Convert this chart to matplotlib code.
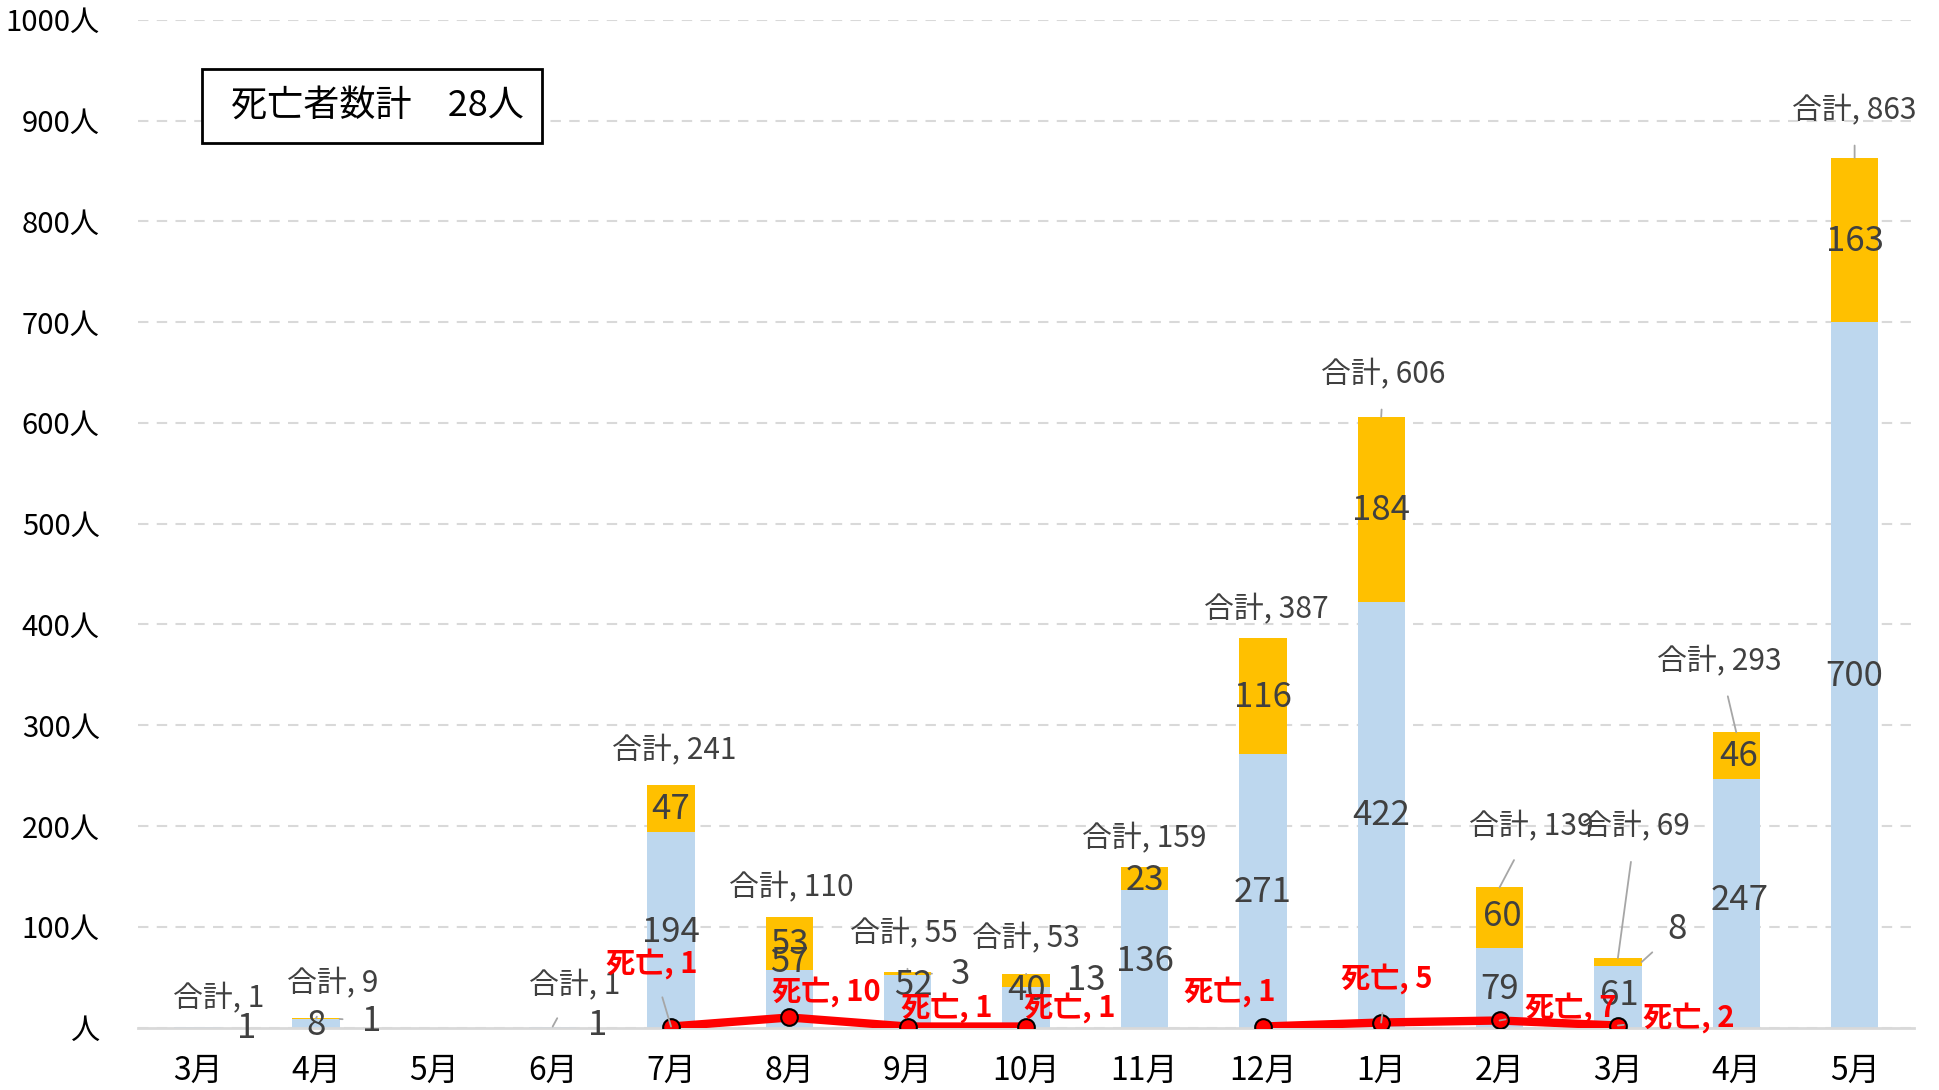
import numpy as np
import matplotlib.pyplot as plt
from matplotlib.patches import Rectangle

plt.rcParams['font.family'] = ['Noto Sans CJK JP', 'DejaVu Sans']

# data
months = ['3月', '4月', '5月', '6月', '7月', '8月', '9月', '10月', '11月',
          '12月', '1月', '2月', '3月', '4月', '5月']
light = [1, 8, 0, 1, 194, 57, 52, 40, 136, 271, 422, 79, 61, 247, 700]
severe = [0, 1, 0, 0, 47, 53, 3, 13, 23, 116, 184, 60, 8, 46, 163]
deaths = [np.nan, np.nan, np.nan, np.nan, 1, 10, 1, 1, np.nan, 1, 5, 7, 2, np.nan, np.nan]
yticks = [0, 100, 200, 300, 400, 500, 600, 700, 800, 900, 1000]

light = np.array(light)
severe = np.array(severe)
deaths = np.array(deaths)
total = light + severe
x = np.arange(len(months))

# label placement (x, y in data units), None = no label
total_pos = [(0.18, 29), (1.14, 44), None, (3.19, 42), (4.03, 275), (5.02, 139),
             (5.97, 93), (7.0, 88), (8.0, 187), (9.03, 415), (10.02, 648),
             (11.27, 199), (12.15, 199), (12.86, 363), (14.0, 910)]
total_lead = [False, True, False, True, False, False, True, True, False, False,
              True, True, True, True, True]
light_pos = [(0.41, -1), (1.0, 2), None, (3.38, 2), (4.0, 94), (5.0, 65), (6.05, 42),
             (7.0, 37), (8.0, 66), (9.0, 134), (10.0, 210), (11.0, 38), (12.01, 32),
             (13.03, 126), (14.0, 348)]
severe_pos = [None, (1.47, 6), None, None, (4.0, 216), (5.0, 82), (6.45, 53),
              (7.51, 47), (8.0, 146), (9.0, 328), (10.0, 513), (11.02, 110),
              (12.5, 97), (13.02, 269), (14.0, 780)]
severe_lead = [False, True, False, False, False, False, True, False, False, False,
               False, False, True, False, False]
death_pos = {4: (3.84, 64), 5: (5.31, 36), 6: (6.33, 20), 7: (7.37, 20),
             9: (8.72, 36), 10: (10.05, 49), 11: (11.6, 20), 12: (12.6, 10)}
death_lead = [4, 10, 11, 12]

blue = '#BDD7EE'
orange = '#FFC000'
txt = '#404040'
lead_c = '#A6A6A6'

fig = plt.figure(figsize=(19.39, 10.90), dpi=100)
ax = fig.add_axes([0.0714, 0.0573, 0.9156, 0.9245])

ax.bar(x, light, width=0.4, color=blue, zorder=2)
ax.bar(x, severe, width=0.4, bottom=light, color=orange, zorder=2)
ax.plot(x, deaths, color='#FF0000', lw=6, marker='o', ms=12,
        mfc='#FF0000', mec='black', mew=1.5, zorder=4)

ax.set_xlim(-0.5, 14.5)
ax.set_ylim(0, 1000)
ax.set_yticks(yticks)
ax.set_yticklabels([f'{v}人' if v else '人' for v in yticks], fontsize=21)
ax.set_xticks(x)
ax.set_xticklabels(months, fontsize=23)
ax.tick_params(axis='x', length=0, pad=20)
ax.tick_params(axis='y', length=0, pad=28)
ax.grid(axis='y', color='#D9D9D9', ls=(0, (5, 4)), lw=1.5, zorder=0)
for s in ['top', 'right', 'left']:
    ax.spines[s].set_visible(False)
ax.spines['bottom'].set_color('#D9D9D9')
ax.spines['bottom'].set_linewidth(2)
ax.spines['bottom'].set_zorder(3)

lp = dict(arrowstyle='-', color=lead_c, lw=1.3, shrinkA=12, shrinkB=0)

for i in x:
    if total_pos[i] is not None:
        ax.annotate(f'合計, {total[i]}', xy=(i, total[i]), xytext=total_pos[i],
                    ha='center', va='center', fontsize=21.5, color=txt, zorder=5,
                    arrowprops=lp if total_lead[i] else None)
    if light_pos[i] is not None:
        ax.text(*light_pos[i], str(light[i]), ha='center', va='center',
                fontsize=25, color=txt, zorder=5)
    if severe_pos[i] is not None:
        ax.annotate(str(severe[i]), xy=(i + 0.2, light[i] + severe[i] / 2),
                    xytext=severe_pos[i], ha='center', va='center', fontsize=25,
                    color=txt, zorder=5,
                    arrowprops=lp if severe_lead[i] else None)

for i, pos in death_pos.items():
    ax.annotate(f'死亡, {int(deaths[i])}', xy=(i, deaths[i]), xytext=pos,
                ha='center', va='center', fontsize=21, color='#FF0000',
                fontweight='bold', zorder=6,
                arrowprops=lp if i in death_lead else None)

# summary box
fig.patches.append(Rectangle((0.1042, 0.8688), 0.1753, 0.0679, transform=fig.transFigure,
                             fc='white', ec='black', lw=2, zorder=5))
fig.text(0.1945, 0.9025, '死亡者数計　28人', ha='center', va='center',
         fontsize=26, color='black', zorder=6)

fig.savefig('out.png', dpi=100)
